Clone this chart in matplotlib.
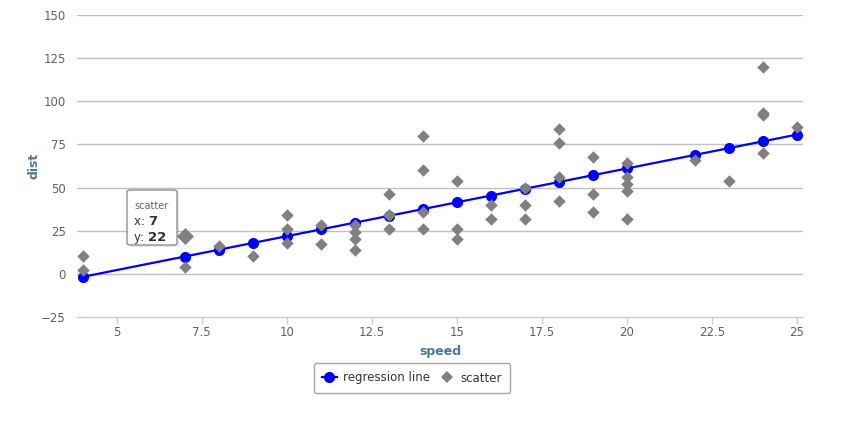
import matplotlib
matplotlib.use("Agg")
import matplotlib.pyplot as plt
from matplotlib.patches import FancyBboxPatch
from matplotlib.lines import Line2D

speed = [4, 4, 7, 7, 8, 9, 10, 10, 10, 11, 11, 12, 12, 12, 12, 13, 13, 13, 13,
         14, 14, 14, 14, 15, 15, 15, 16, 16, 17, 17, 17, 18, 18, 18, 18, 19, 19,
         19, 20, 20, 20, 20, 20, 22, 23, 24, 24, 24, 24, 25]
dist = [2, 10, 4, 22, 16, 10, 18, 26, 34, 17, 28, 14, 20, 24, 28, 26, 34, 34, 46,
        26, 36, 60, 80, 20, 26, 54, 32, 40, 32, 40, 50, 42, 56, 76, 84, 36, 46,
        68, 32, 48, 52, 56, 64, 66, 54, 70, 92, 93, 120, 85]

reg_x = [4, 7, 8, 9, 10, 11, 12, 13, 14, 15, 16, 17, 18, 19, 20, 22, 23, 24, 25]
reg_y = [-1.85, 9.95, 13.88, 17.81, 21.75, 25.68, 29.61, 33.54, 37.47, 41.41,
         45.34, 49.27, 53.20, 57.14, 61.07, 68.93, 72.87, 76.80, 80.73]

hover_index = 3  # the point (7, 22) shown in the tooltip

x_ticks = [5, 7.5, 10, 12.5, 15, 17.5, 20, 22.5, 25]
x_tick_labels = ["5", "7.5", "10", "12.5", "15", "17.5", "20", "22.5", "25"]
y_ticks = [-25, 0, 25, 50, 75, 100, 125, 150]

plt.rcParams['font.family'] = ['DejaVu Sans']

fig = plt.figure(figsize=(8.48, 4.21), dpi=100)
ax = fig.add_axes([77/848, 1 - 316.7/421, (803-77)/848, (316.7-15.3)/421])

ax.set_xlim(3.83, 25.18)
ax.set_ylim(-25, 150)

for yt in y_ticks:
    if yt == -25:
        continue
    ax.axhline(yt, color="#c0c0c0", lw=1.0, zorder=0)

ax.plot(reg_x, reg_y, color="#0000ff", lw=1.6, marker="o", markersize=8,
        markeredgewidth=0, zorder=3)
ax.scatter(speed, dist, marker="D", s=40, color="#808080", zorder=4, linewidths=0)
ax.scatter([speed[hover_index]], [dist[hover_index]], marker="D", s=75,
           color="#808080", zorder=5, linewidths=0)

for s in ["top", "right", "left"]:
    ax.spines[s].set_visible(False)
ax.spines["bottom"].set_color("#c0d0e0")
ax.spines["bottom"].set_linewidth(1.0)

ax.set_xticks(x_ticks)
ax.set_xticklabels(x_tick_labels)
ax.set_yticks(y_ticks)
ax.tick_params(axis="x", colors="#c0d0e0", length=5, width=1, direction="out",
               labelcolor="#606060", labelsize=8.5, pad=2)
ax.tick_params(axis="y", length=0, labelcolor="#606060", labelsize=8.5, pad=8)

ax.set_xlabel("speed", color="#4d759e", fontsize=9, fontweight="bold", labelpad=4)
fig.text(34/848, 1 - 166/421, "dist", color="#4d759e", fontsize=9, fontweight="bold",
         rotation=90, ha="center", va="center")

# tooltip
tip = FancyBboxPatch((127/848, 1 - 245/421), 50/848, 55/421,
                     boxstyle="round,pad=0,rounding_size=0.004",
                     transform=fig.transFigure, facecolor="white",
                     edgecolor="#909090", lw=1.0, zorder=10)
shadow = FancyBboxPatch((129/848, 1 - 247/421), 50/848, 55/421,
                        boxstyle="round,pad=0,rounding_size=0.004",
                        transform=fig.transFigure, facecolor="#00000018",
                        edgecolor="none", zorder=9)
fig.patches.extend([shadow, tip])
fig.text(134/848, 1 - 209/421, "scatter", fontsize=7, color="#666666", zorder=11)
fig.text(134/848, 1 - 225/421, "x: ", fontsize=8.5, color="#333333", zorder=11)
fig.text(148/848, 1 - 225/421, "7", fontsize=9.5, color="#333333", fontweight="bold", zorder=11)
fig.text(134/848, 1 - 241/421, "y: ", fontsize=8.5, color="#333333", zorder=11)
fig.text(148/848, 1 - 241/421, "22", fontsize=9.5, color="#333333", fontweight="bold", zorder=11)

# legend
handles = [Line2D([], [], color="#0000ff", lw=1.6, marker="o", markersize=8, markeredgewidth=0),
           Line2D([], [], color="#808080", lw=0, marker="D", markersize=6, markeredgewidth=0)]
leg = fig.legend(handles, ["regression line", "scatter"], loc="center",
                 bbox_to_anchor=(412/848, 1 - 378/421), ncol=2, frameon=True,
                 fontsize=8.5, handlelength=1.3, handletextpad=0.5, columnspacing=0.8,
                 borderpad=0.7, fancybox=True)
leg.get_frame().set_edgecolor("#909090")
leg.get_frame().set_linewidth(1.0)
for t in leg.get_texts():
    t.set_color("#333333")

fig.savefig("out.png", dpi=100)
